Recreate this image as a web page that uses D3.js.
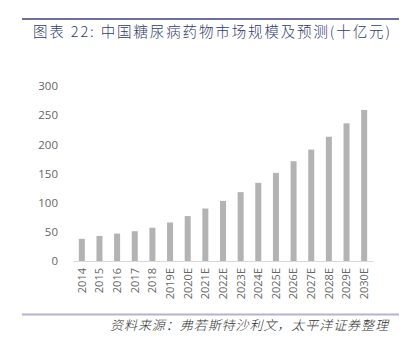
<!DOCTYPE html>
<html><head><meta charset="utf-8">
<script src="https://cdn.jsdelivr.net/npm/d3@7/dist/d3.min.js"></script>
<style>body{margin:0;background:#fff}svg{display:block}</style>
</head><body>
<script>
const categories = ["2014","2015","2016","2017","2018","2019E","2020E","2021E","2022E","2023E","2024E","2025E","2026E","2027E","2028E","2029E","2030E"];
const values = [38,43,47,51,57,66,77,90,103,118,134,151,171,191,213,236,259];
const yTicks = [0,50,100,150,200,250,300];
const title = "图表 22: 中国糖尿病药物市场规模及预测(十亿元)";
const source = "资料来源：弗若斯特沙利文，太平洋证券整理";

const W = 412, H = 344;
const svg = d3.select("body").append("svg").attr("width", W).attr("height", H);

svg.append("line").attr("x1",22).attr("x2",399).attr("y1",19).attr("y2",19)
  .attr("stroke","#6f6f9f").attr("stroke-width",2.2);
svg.append("text").attr("x",33).attr("y",37).text(title)
  .attr("font-family","Noto Sans CJK SC").attr("font-size",14.5).attr("font-weight",300).attr("fill","#2f3d6e")
  .attr("textLength",357).attr("lengthAdjust","spacing");

const x = d3.scaleBand().domain(categories).range([73,373]).paddingInner(0.66).paddingOuter(0.33);
const y = d3.scaleLinear().domain([0,300]).range([261,86]);

const gy = svg.append("g").attr("transform","translate(62,0)")
  .call(d3.axisLeft(y).tickValues(yTicks).tickSize(0).tickPadding(0));
gy.select(".domain").remove();
gy.selectAll("text").attr("font-family","Open Sans, Noto Sans").attr("font-size",11.5).attr("fill","#666").attr("dx",-4);

svg.append("g").selectAll("rect").data(values).join("rect")
  .attr("x",(d,i)=>x(categories[i])).attr("width",x.bandwidth())
  .attr("y",d=>y(d)).attr("height",d=>y(0)-y(d)).attr("fill","#b3b3b3");

const gx = svg.append("g").attr("transform","translate(0,261)")
  .call(d3.axisBottom(x).tickSize(0).tickPadding(0));
gx.select(".domain").attr("stroke","#d9d9d9").attr("stroke-width",1.2);
gx.selectAll("text").attr("font-family","Open Sans, Noto Sans").attr("font-size",11).attr("fill","#666")
  .attr("transform","rotate(-90)").attr("text-anchor","end").attr("x",-7).attr("y",0).attr("dy","0.35em");

svg.append("line").attr("x1",22).attr("x2",399).attr("y1",314.5).attr("y2",314.5)
  .attr("stroke","#b4b4d2").attr("stroke-width",2);
svg.append("text").attr("x",110).attr("y",330).text(source)
  .attr("font-family","Noto Sans CJK SC").attr("font-size",13).attr("font-weight",300).attr("fill","#333")
  .attr("font-style","italic").attr("textLength",278).attr("lengthAdjust","spacing");
</script>
</body></html>
